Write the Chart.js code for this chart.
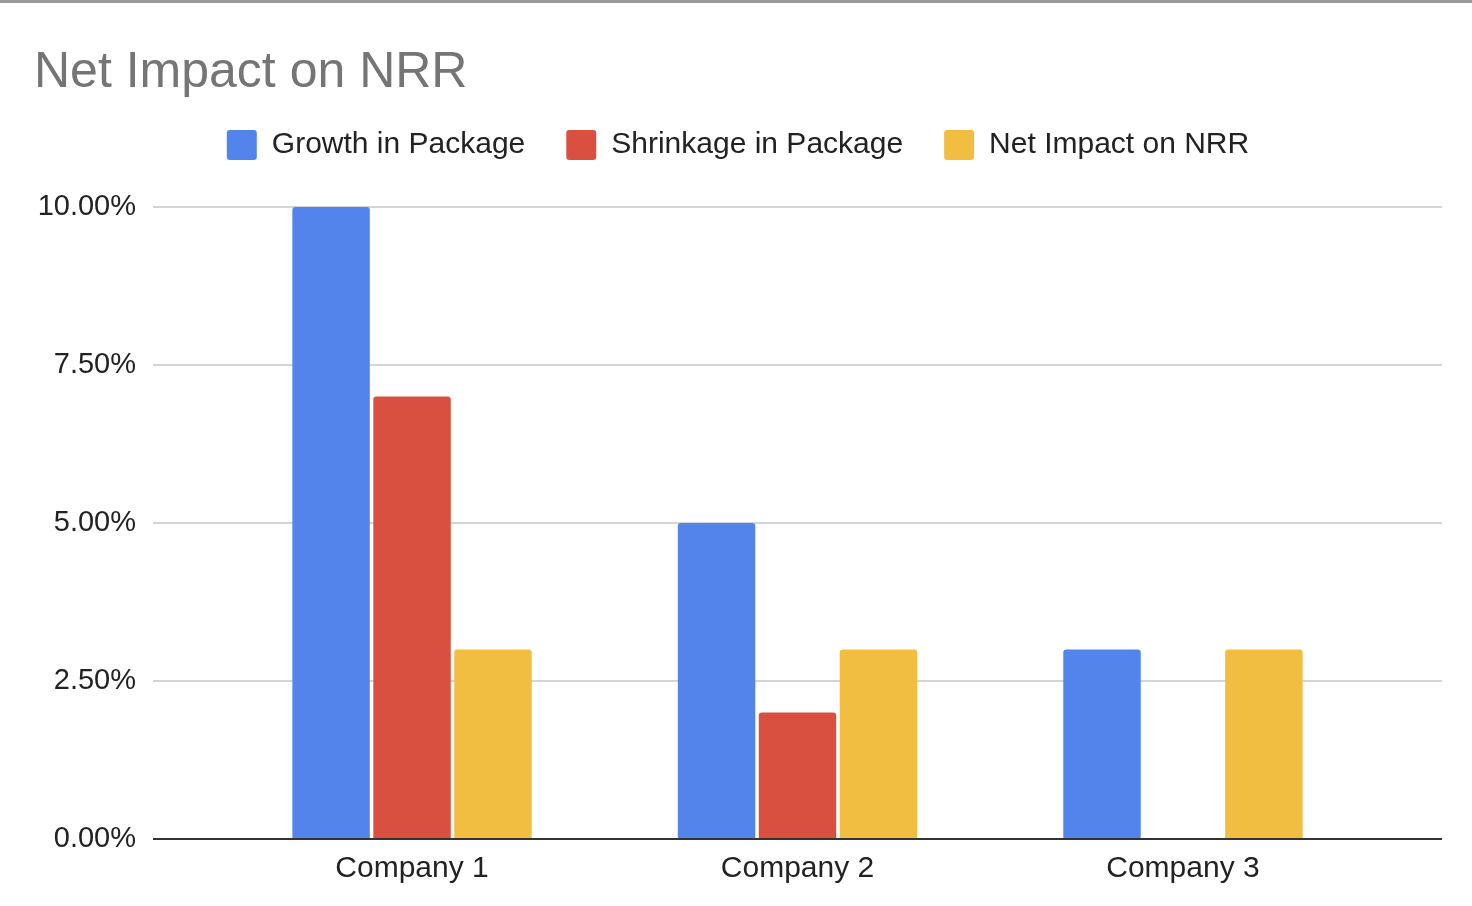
<!DOCTYPE html>
<html>
<head>
<meta charset="utf-8">
<title>Net Impact on NRR</title>
<script src="https://cdn.jsdelivr.net/npm/chart.js@4.4.1/dist/chart.umd.min.js"></script>
<style>
    html, body { margin: 0; padding: 0; background: #fff; }
    #wrap { position: relative; width: 1472px; height: 906px; }
    #topline { position: absolute; left: 0; top: 0; width: 1472px; height: 3px; background: #9a9a9a; }
</style>
</head>
<body>
<div id="wrap">
    <canvas id="nrr-chart"></canvas>
    <div id="topline"></div>
</div>
<script>
const companies = ['Company 1', 'Company 2', 'Company 3']
const growth = [0.10, 0.05, 0.03]
const shrinkage = [0.07, 0.02, 0]
const netImpact = [0.03, 0.03, 0.03]
const yTicks = [0, 0.025, 0.05, 0.075, 0.10]

const font = "'Liberation Sans', Arial, Helvetica, sans-serif"

function toPoints(values){
    return values.map((v, i) => ({ x: i, y: v }))
}

function dataset(label, values, color){
    return {
        label: label,
        data: toPoints(values),
        backgroundColor: color,
        borderWidth: 0,
        borderRadius: 3,
        borderSkipped: 'start',
        categoryPercentage: 0.63,
        barPercentage: 0.957
    }
}

// legend needs extra space under it before the plot starts
const legendGap = {
    id: 'legendGap',
    beforeInit(chart){
        const fit = chart.legend.fit
        chart.legend.fit = function(){
            fit.bind(chart.legend)()
            this.height += 37
        }
    }
}

const ctx = document.getElementById('nrr-chart').getContext('2d')
const myChart = new Chart(ctx, {
    type: 'bar',
    data: {
        datasets: [
            dataset('Growth in Package', growth, '#5384ec'),
            dataset('Shrinkage in Package', shrinkage, '#d95040'),
            dataset('Net Impact on NRR', netImpact, '#f1be42')
        ]
    },
    plugins: [legendGap],
    options: {
        responsive: true,
        maintainAspectRatio: false,
        animation: false,
        devicePixelRatio: 1,
        layout: {
            padding: { left: 34, right: 30, top: 0, bottom: 7 }
        },
        plugins: {
            title: {
                display: true,
                text: 'Net Impact on NRR',
                align: 'start',
                color: '#757575',
                font: { family: font, size: 50, weight: 'normal', lineHeight: 1 },
                padding: { top: 48, bottom: -9 }
            },
            legend: {
                display: true,
                position: 'top',
                labels: {
                    color: '#222',
                    boxWidth: 30,
                    boxHeight: 30,
                    padding: 41,
                    useBorderRadius: true,
                    borderRadius: 3,
                    font: { family: font, size: 30 }
                }
            },
            tooltip: { enabled: false }
        },
        scales: {
            x: {
                type: 'linear',
                offset: false,
                min: -0.672,
                max: 2.672,
                afterBuildTicks: function(scale){
                    scale.ticks = companies.map((c, i) => ({ value: i }))
                },
                ticks: {
                    color: '#222',
                    padding: 12,
                    autoSkip: false,
                    maxRotation: 0,
                    font: { family: font, size: 30 },
                    callback: function(value){
                        return companies[value]
                    }
                },
                grid: { display: false, drawTicks: false },
                border: { display: false }
            },
            y: {
                min: 0,
                max: 0.10,
                afterBuildTicks: function(scale){
                    scale.ticks = yTicks.map(v => ({ value: v }))
                },
                afterFit: function(scale){
                    scale.width = 119
                },
                ticks: {
                    color: '#222',
                    padding: 17,
                    font: { family: font, size: 29 },
                    callback: function(value){
                        return (value * 100).toFixed(2) + '%'
                    }
                },
                grid: {
                    drawTicks: false,
                    lineWidth: 2,
                    color: function(c){
                        return c.tick && c.tick.value === 0 ? '#333333' : '#d4d4d4'
                    }
                },
                border: { display: false }
            }
        }
    }
})
</script>
</body>
</html>
